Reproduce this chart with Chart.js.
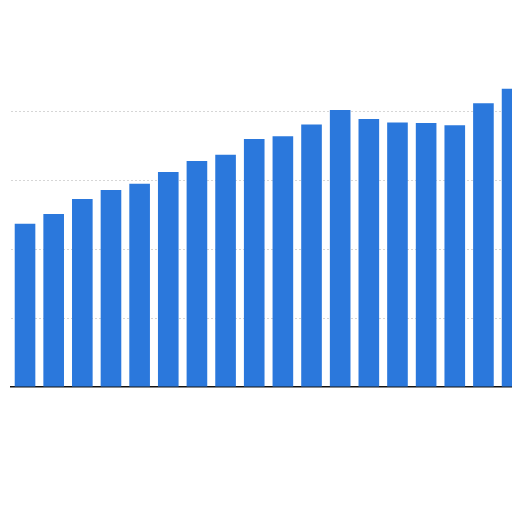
<!DOCTYPE html>
<html>
<head>
<meta charset="utf-8">
<script src="https://cdn.jsdelivr.net/npm/chart.js@4/dist/chart.umd.min.js"></script>
<style>
    html, body { margin: 0; padding: 0; background: #fff; overflow: hidden; }
    #wrap { position: absolute; left: 0; top: 0; width: 540px; height: 512px; }
</style>
</head>
<body>
<div id="wrap"><canvas id="chart" width="540" height="512"></canvas></div>
<script>
// Category slots (no labels visible in the picture)
const categories = ['1', '2', '3', '4', '5', '6', '7', '8', '9', '10', '11', '12', '13', '14', '15', '16', '17', '18'];

// Bar heights (gridline step = 10)
const values = [23.7, 25.1, 27.3, 28.6, 29.5, 31.2, 32.8, 33.7, 36.0, 36.4, 38.1, 40.2, 38.9, 38.4, 38.3, 38.0, 41.2, 43.3];

const yTicks = [0, 10, 20, 30, 40, 50];

const ctx = document.getElementById('chart').getContext('2d');

new Chart(ctx, {
    type: 'bar',
    data: {
        labels: categories,
        datasets: [{
            data: values,
            backgroundColor: '#2b78dc',
            borderWidth: 0
        }]
    },
    options: {
        responsive: false,
        animation: false,
        layout: {
            padding: { left: 10.7, right: 13.6, top: 42.5, bottom: 117 }
        },
        plugins: {
            legend: { display: false },
            tooltip: { enabled: false }
        },
        scales: {
            x: {
                grid: { display: false },
                ticks: { display: false },
                border: { display: true, color: '#111', width: 1.5 }
            },
            y: {
                min: yTicks[0],
                max: yTicks[yTicks.length - 1],
                ticks: { display: false, stepSize: 10 },
                border: { display: false, dash: [2, 2] },
                grid: {
                    drawTicks: false,
                    color: c => (c.tick.value > 0 && c.tick.value < 50) ? '#d6d6d6' : 'rgba(0,0,0,0)',
                    lineWidth: 1
                }
            }
        }
    }
});
</script>
</body>
</html>
